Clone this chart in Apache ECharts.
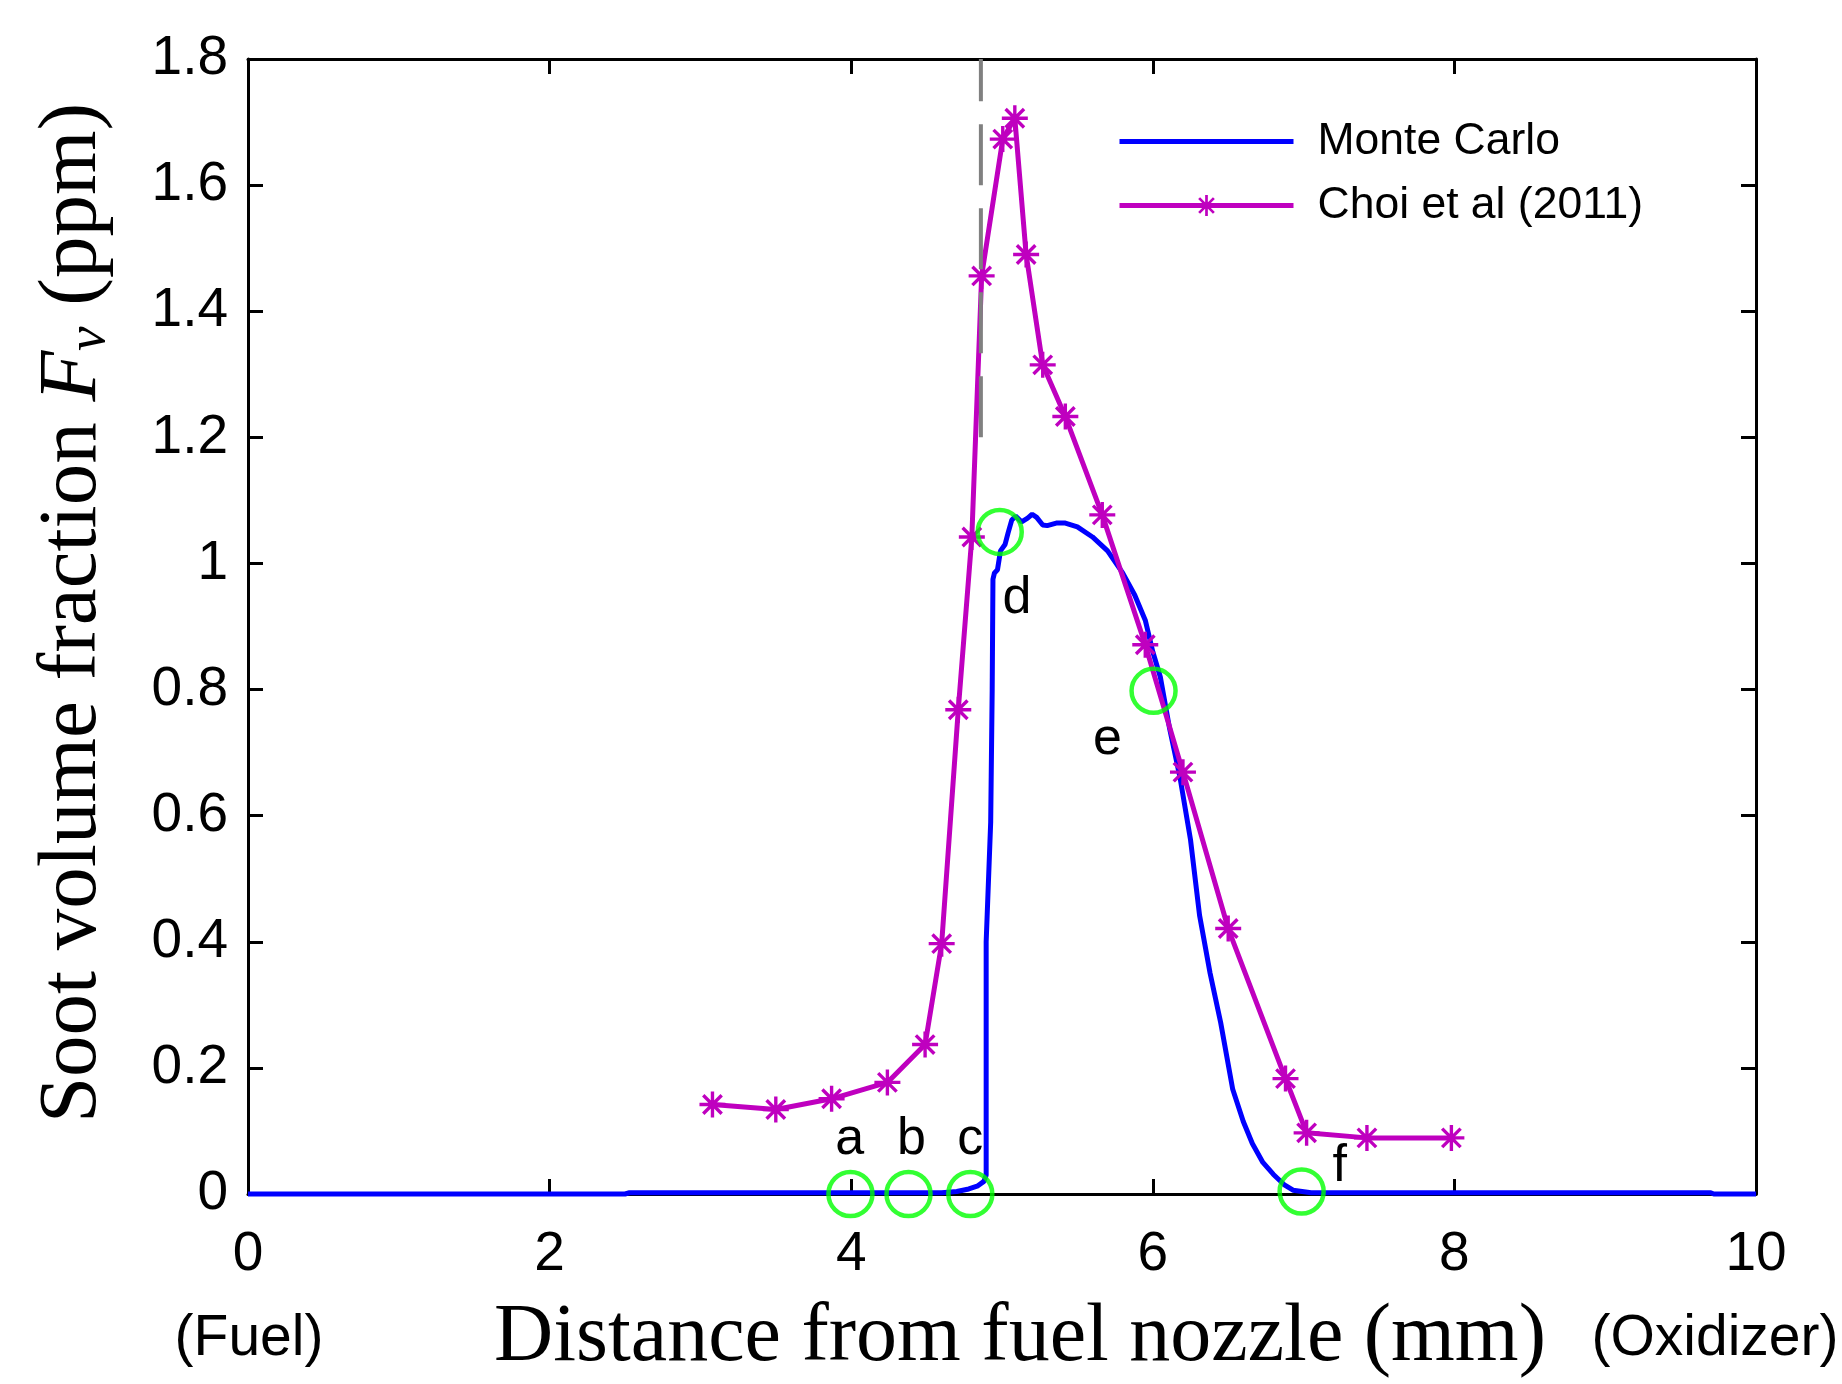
<!DOCTYPE html>
<html><head><meta charset="utf-8">
<script src="https://cdn.jsdelivr.net/npm/echarts@6/dist/echarts.min.js"></script>
<style>html,body{margin:0;padding:0;background:#fff}#c{width:1842px;height:1384px}</style>
</head><body><div id="c"></div>
<script>
// Monte Carlo simulation curve
const mcX = [0, 2.50, 2.53, 4.60, 4.70, 4.78, 4.84, 4.88, 4.895, 4.895, 4.925, 4.935, 4.94, 4.95, 4.97, 4.99, 5.02, 5.04, 5.065, 5.09, 5.13, 5.17, 5.20, 5.23, 5.27, 5.30, 5.36, 5.42, 5.50, 5.60, 5.70, 5.80, 5.88, 5.95, 6.00, 6.05, 6.11, 6.18, 6.25, 6.31, 6.38, 6.45, 6.53, 6.60, 6.66, 6.73, 6.80, 6.87, 6.93, 7.05, 9.70, 9.72, 10];
const mcY = [0, 0, 0.002, 0.002, 0.004, 0.008, 0.013, 0.02, 0.03, 0.40, 0.59, 0.80, 0.975, 0.985, 0.99, 1.02, 1.03, 1.048, 1.069, 1.075, 1.066, 1.072, 1.078, 1.073, 1.061, 1.06, 1.064, 1.064, 1.058, 1.042, 1.02, 0.985, 0.95, 0.91, 0.86, 0.82, 0.74, 0.661, 0.562, 0.442, 0.35, 0.272, 0.166, 0.115, 0.08, 0.05, 0.031, 0.015, 0.006, 0.002, 0.002, 0, 0];
// Choi et al (2011) measurements
const choiX = [3.08, 3.50, 3.87, 4.24, 4.49, 4.60, 4.71, 4.80, 4.865, 5.005, 5.085, 5.16, 5.27, 5.42, 5.665, 5.95, 6.20, 6.50, 6.88, 7.02, 7.42, 7.98];
const choiY = [0.142, 0.134, 0.151, 0.177, 0.237, 0.397, 0.768, 1.042, 1.456, 1.673, 1.706, 1.49, 1.315, 1.233, 1.077, 0.871, 0.669, 0.421, 0.183, 0.097, 0.089, 0.089];
// dashed reference line
const dashX = [4.86, 4.86];
const dashY = [1.2, 1.8];
// highlighted sample points
const circleX = [3.995, 4.38, 4.79, 4.985, 6.005, 6.987];
const circleY = [0, 0, 0, 1.05, 0.798, 0.004];
// annotation letters
const noteText = ['a', 'b', 'c', 'd', 'e', 'f'];
const noteX = [3.99, 4.40, 4.79, 5.10, 5.70, 7.24];
const noteY = [0.0857, 0.0857, 0.0857, 0.944, 0.72, 0.043];
// axes
const xTicks = [0, 2, 4, 6, 8, 10];
const yTicks = [0, 0.2, 0.4, 0.6, 0.8, 1, 1.2, 1.4, 1.6, 1.8];
const seriesNames = ['Monte Carlo', 'Choi et al (2011)'];

const zip = (a, b) => a.map((v, i) => [v, b[i]]);
const SANS = 'Liberation Sans, Arial, Helvetica, sans-serif';
const SERIF = 'Liberation Serif, Times New Roman, serif';
const STAR = 'path://M0 43.5L100 43.5L100 56.5L0 56.5Z M43.5 0L56.5 0L56.5 100L43.5 100Z M19.1 9.9L90.1 80.9L80.9 90.1L9.9 19.1Z M80.9 9.9L90.1 19.1L19.1 90.1L9.9 80.9Z';
const BLUE = '#0000FF', MAG = '#BF00BF';

const chart = echarts.init(document.getElementById('c'), null, {renderer: 'canvas'});
const tickStyle = {show: true, inside: true, length: 15, lineStyle: {color: '#000', width: 3}};
const lineStyleAxis = {show: true, onZero: false, lineStyle: {color: '#000', width: 3}};
const xCommon = {type: 'value', min: xTicks[0], max: xTicks[xTicks.length - 1], interval: xTicks[1] - xTicks[0], splitLine: {show: false}, axisLine: lineStyleAxis, axisTick: tickStyle};
const yCommon = {type: 'value', min: yTicks[0], max: yTicks[yTicks.length - 1], interval: 0.2, splitLine: {show: false}, axisLine: lineStyleAxis, axisTick: tickStyle};

chart.setOption({
  animation: false,
  backgroundColor: '#fff',
  grid: {left: 248, right: 86, top: 59, bottom: 190, containLabel: false},
  xAxis: [
    Object.assign({}, xCommon, {position: 'bottom', axisLabel: {show: true, fontSize: 55, color: '#000', fontFamily: SANS, margin: 33}}),
    Object.assign({}, xCommon, {position: 'top', axisLabel: {show: false}})
  ],
  yAxis: [
    Object.assign({}, yCommon, {position: 'left', axisLabel: {show: true, fontSize: 55, color: '#000', fontFamily: SANS, margin: 20,
      formatter: v => { const t = yTicks.find(k => Math.abs(k - v) < 1e-6); return t === undefined ? '' : String(t); }}}),
    Object.assign({}, yCommon, {position: 'right', axisLabel: {show: false}})
  ],
  legend: {
    data: [
      {name: seriesNames[0], itemStyle: {color: 'rgba(0,0,0,0)', borderWidth: 0, opacity: 0}, lineStyle: {color: BLUE, width: 5}},
      {name: seriesNames[1], itemStyle: {color: MAG}, lineStyle: {color: MAG, width: 5}}
    ],
    orient: 'vertical', left: 1112, top: 114,
    itemWidth: 174, itemHeight: 26, itemGap: 19,
    textStyle: {fontSize: 44.5, color: '#000', fontFamily: SANS, padding: [0, 0, 0, 19]},
    selectedMode: false
  },
  series: [
    {name: seriesNames[0], type: 'line', data: zip(mcX, mcY), symbol: 'none', showSymbol: false, clip: false,
      lineStyle: {color: BLUE, width: 5}, itemStyle: {color: BLUE}, z: 2, silent: true},
    {name: seriesNames[1], type: 'line', data: zip(choiX, choiY), symbol: STAR, symbolSize: 26, symbolKeepAspect: true,
      lineStyle: {color: MAG, width: 5}, itemStyle: {color: MAG}, z: 3, silent: true},
    {name: 'dash', type: 'line', data: zip(dashX, dashY), symbol: 'none', showSymbol: false,
      lineStyle: {color: '#808080', width: 4, type: [61, 23]}, z: 4, silent: true},
    {name: 'circles', type: 'scatter', data: zip(circleX, circleY), symbol: 'circle', symbolSize: 44, clip: false,
      itemStyle: {color: 'rgba(0,0,0,0)', borderColor: '#00FF00', borderWidth: 4.5}, z: 5, silent: true},
    {name: 'notes', type: 'scatter', symbolSize: 1, clip: false, itemStyle: {color: 'rgba(0,0,0,0)'}, z: 6, silent: true,
      data: noteX.map((x, i) => ({name: noteText[i], value: [x, noteY[i]]})),
      label: {show: true, position: 'inside', formatter: p => p.name, fontSize: 52, color: '#000', opacity: 1,
        textBorderWidth: 0, textBorderColor: 'transparent', fontFamily: SANS}}
  ],
  graphic: [
    {type: 'text', x: 73, y: 613, rotation: Math.PI / 2, silent: true,
      style: {text: '{n|Soot volume fraction }{i|F}{s|v}{n| (ppm)}', align: 'center', verticalAlign: 'middle', fill: '#000',
        rich: {
          n: {fontFamily: SERIF, fontSize: 83, lineHeight: 88, fill: '#000'},
          i: {fontFamily: SERIF, fontSize: 83, fontStyle: 'italic', lineHeight: 88, fill: '#000'},
          s: {fontFamily: SERIF, fontSize: 55, fontStyle: 'italic', lineHeight: 40, verticalAlign: 'bottom', fill: '#000'}
        }}},
    {type: 'text', x: 1020, y: 1338, silent: true,
      style: {text: 'Distance from fuel nozzle (mm)', font: '82px ' + SERIF, align: 'center', verticalAlign: 'middle', fill: '#000'}},
    {type: 'text', x: 249, y: 1339, silent: true,
      style: {text: '(Fuel)', font: '57px ' + SANS, align: 'center', verticalAlign: 'middle', fill: '#000'}},
    {type: 'text', x: 1715, y: 1339, silent: true,
      style: {text: '(Oxidizer)', font: '57px ' + SANS, align: 'center', verticalAlign: 'middle', fill: '#000'}}
  ]
});
</script></body></html>
